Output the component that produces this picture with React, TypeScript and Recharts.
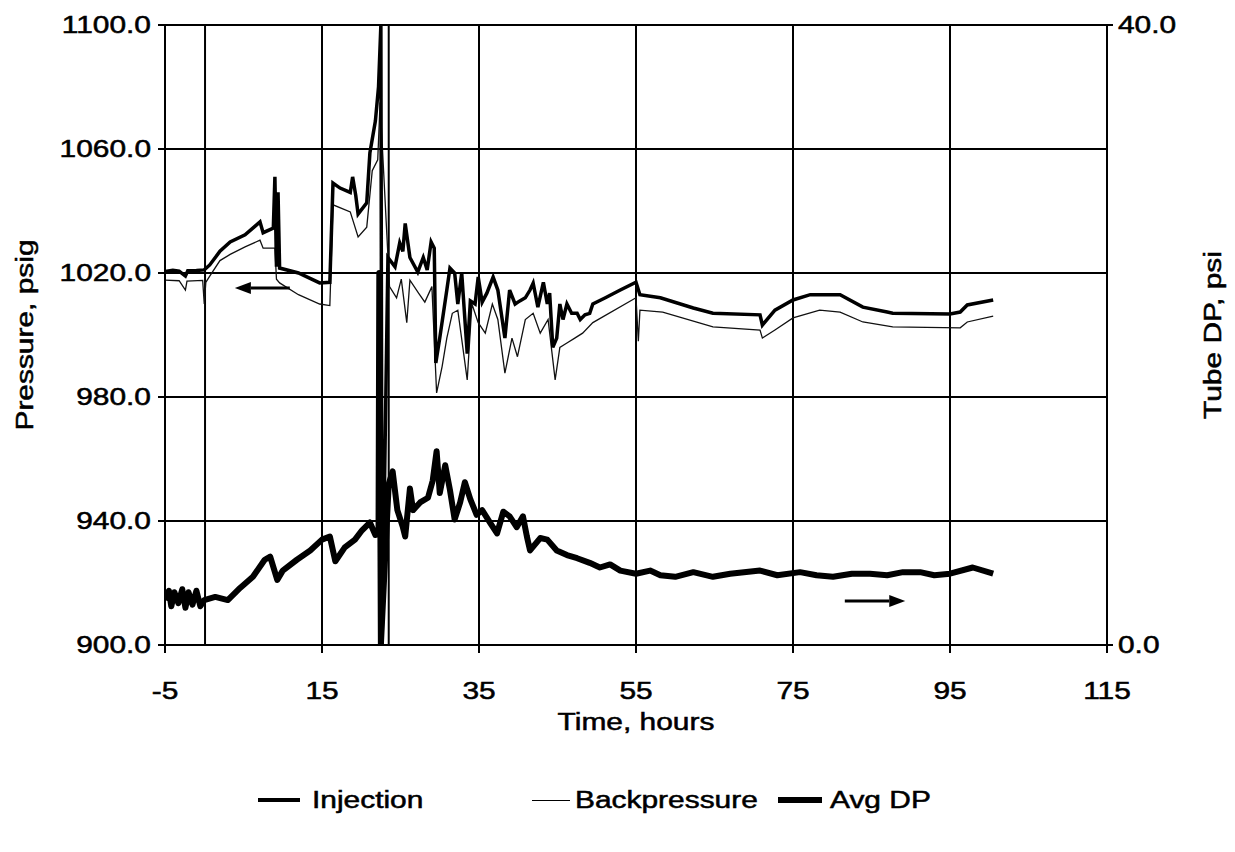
import React from "react";
import {
  LineChart,
  Line,
  XAxis,
  YAxis,
  CartesianGrid,
  ReferenceLine,
} from "recharts";

// Injection pressure, psig
const injHours = [
  -5, -4, -3.2, -2.4, -2.1, -1, 0, 0.7, 2.0, 3.3,
  5.2, 7.1, 7.5, 8.8, 9.0, 9.2, 9.4, 9.6, 12.0, 14.7,
  16.0, 16.4, 17.3, 18.6, 18.9, 19.3, 19.6, 20.7, 21.1, 21.8,
  22.2, 22.5, 22.65, 23.4, 24.3, 24.9, 25.3, 25.6, 26.2, 27.2,
  27.9, 28.4, 28.9, 29.3, 29.5, 30.0, 30.9, 31.3, 31.9, 32.3,
  32.8, 33.5, 33.9, 34.5, 34.9, 35.4, 36.0, 36.8, 37.4, 38.3,
  38.9, 39.6, 40.2, 40.9, 41.5, 41.9, 42.5, 43.2, 43.7, 44.0,
  44.4, 44.9, 45.3, 45.7, 46.2, 46.8, 47.5, 47.9, 48.5, 49.1,
  49.5, 51.1, 53.0, 55.0, 55.5, 58.1, 62.3, 64.8, 70.8, 71.1,
  72.7, 75.0, 77.2, 81.0, 83.9, 87.0, 87.7, 95.0, 96.3, 97.2,
  100.5,
];
const injPsig = [
  1020.5, 1020.9, 1020.6, 1019.0, 1020.7, 1020.8, 1021, 1022.6, 1027, 1030,
  1032.3, 1036.5, 1033, 1034.5, 1051, 1022, 1046, 1021.6, 1020, 1016.8,
  1017, 1049, 1047.4, 1046, 1051, 1045, 1039, 1042.6, 1058.7, 1069,
  1080, 1100, 900, 1025, 1022, 1029.7, 1027, 1036, 1025, 1020.3,
  1025, 1021, 1030, 1028, 991, 999, 1014.5, 1021.6, 1020, 1010,
  1020, 994, 1011, 1010, 1018.7, 1010.6, 1013.5, 1018.7, 1014.5, 999,
  1014.5, 1010, 1011, 1012, 1014.5, 1016.7, 1009, 1017, 1010, 1013.5,
  996, 999, 1010, 1005, 1010, 1007, 1007, 1005, 1006.5, 1007,
  1010, 1012, 1014.5, 1017, 1013, 1012, 1008.7, 1007, 1006.5, 1003.2,
  1008, 1011.3, 1013, 1013, 1009, 1007.4, 1007, 1006.8, 1007.4, 1009.7,
  1011.3,
];

// Backpressure, psig
const bpHours = [
  -5, -3.2, -2.4, -2.2, -0.2, 0.0, 0.2, 0.7, 2.0, 3.3,
  5.2, 7.1, 7.5, 9.0, 9.2, 9.6, 12.0, 14.7, 16.0, 16.4,
  18.6, 19.6, 20.7, 21.4, 22.1, 22.4, 23.6, 24.5, 25.1, 25.8,
  26.2, 27.3, 28.1, 29.0, 29.6, 30.3, 30.9, 31.6, 32.3, 33.5,
  34.1, 34.9, 35.8, 36.7, 37.4, 38.3, 39.2, 39.9, 40.9, 41.9,
  42.8, 43.8, 44.7, 45.3, 46.2, 47.2, 48.2, 49.5, 55.0, 55.3,
  55.5, 58.4, 64.8, 70.8, 71.1, 72.7, 75.0, 78.4, 81.0, 83.9,
  87.7, 96.3, 97.2, 100.5,
];
const bpPsig = [
  1017.7, 1017.5, 1014.5, 1017.4, 1017.6, 1010, 1017, 1019, 1024, 1026,
  1028.4, 1030.6, 1028, 1028, 1018, 1016.8, 1013, 1010, 1009.5, 1042,
  1039.7, 1031.6, 1034.8, 1053, 1056.5, 1075, 1015.6, 1012, 1018, 1004,
  1017.7, 1013.5, 1010.6, 1015.6, 981.3, 989.8, 999, 1007, 1008, 985.5,
  1010, 1004, 1000.6, 1010, 1005, 987.7, 999, 993, 1005, 1007,
  1000.6, 1005, 985.5, 996, 997.4, 999, 1000.6, 1004, 1012, 998,
  1008, 1007.4, 1002.6, 1001.6, 999, 1001.6, 1005.5, 1008, 1007.4, 1004.2,
  1002.6, 1002.3, 1004.2, 1006.1,
];

// Avg tube DP, psi (right axis)
const dpHours = [
  -5, -4.5, -4.2, -3.8, -3.3, -2.8, -2.4, -2.0, -1.5, -1.0,
  -0.5, 0.0, 1.4, 3.0, 4.6, 6.2, 7.7, 8.4, 9.3, 10.0,
  11.8, 13.5, 15.0, 16.0, 16.7, 17.9, 19.2, 20.1, 21.1, 21.8,
  22.2, 22.3, 22.5, 23.5, 24.0, 24.6, 25.3, 25.6, 26.2, 26.6,
  27.5, 28.5, 29.1, 29.6, 30.0, 30.7, 31.3, 31.9, 32.6, 33.2,
  33.9, 34.7, 35.4, 36.4, 37.3, 38.1, 38.9, 39.8, 40.6, 41.1,
  41.5, 42.8, 43.7, 44.9, 46.2, 47.5, 49.1, 50.4, 51.7, 53.0,
  55.0, 56.8, 58.1, 60.0, 62.3, 64.8, 67.0, 70.8, 73.0, 75.9,
  78.0, 80.1, 82.5, 84.8, 87.0, 89.0, 91.2, 93.0, 95.0, 97.9,
  100.5,
];
const dpPsi = [
  2.9, 3.5, 2.5, 3.4, 2.7, 3.6, 2.4, 3.4, 2.6, 3.5,
  2.5, 2.9, 3.1, 2.9, 3.7, 4.4, 5.5, 5.7, 4.2, 4.8,
  5.5, 6.1, 6.8, 7.0, 5.4, 6.3, 6.8, 7.4, 7.9, 7.1,
  7.2, 24, 0, 10.4, 11.2, 8.7, 7.6, 7.0, 10.1, 8.7,
  9.2, 9.5, 10.6, 12.5, 9.8, 11.6, 10.0, 8.1, 9.2, 10.5,
  9.4, 8.4, 8.7, 7.9, 7.2, 8.6, 8.3, 7.6, 8.3, 7.0,
  6.1, 6.9, 6.8, 6.1, 5.8, 5.6, 5.3, 5.0, 5.2, 4.8,
  4.6, 4.8, 4.5, 4.4, 4.7, 4.4, 4.6, 4.8, 4.5, 4.7,
  4.5, 4.4, 4.6, 4.6, 4.5, 4.7, 4.7, 4.5, 4.6, 5.0,
  4.6,
];

const xTicks = [-5, 15, 35, 55, 75, 95, 115];
const leftTicks = [900, 940, 980, 1020, 1060, 1100];
const rightTicks = [0, 40];
const markerHours = [0.1, 23.5];

// direction arrows: [fromHour, toHour, psig]
const arrowLeft = [10.9, 3.9, 1015.2];
const arrowRight = [81.6, 89.3, 914.2];

const zip = (hs: number[], vs: number[]) => hs.map((h, i) => ({ h, v: vs[i] }));
const injData = zip(injHours, injPsig);
const bpData = zip(bpHours, bpPsig);
const dpData = zip(dpHours, dpPsi);

const FONT = '"Liberation Sans", Arial, Helvetica, sans-serif';
const FS = 23;
const STRETCH = 1.3;

function LeftTick(props: any) {
  const { x, y, payload } = props;
  const ax = x + 14;
  return (
    <g>
      <line x1={ax} x2={ax + 5} y1={y} y2={y} stroke="#000" strokeWidth={2} />
      <text
        transform={`translate(${x},${y}) scale(${STRETCH},1)`}
        textAnchor="end"
        dy="0.36em"
        fontSize={FS}
        fontFamily={FONT}
        fill="#000"
        stroke="#000"
        strokeWidth={0.5}
      >
        {Number(payload.value).toFixed(1)}
      </text>
    </g>
  );
}

function RightTick(props: any) {
  const { x, y, payload } = props;
  const ax = x - 11;
  return (
    <g>
      <line x1={ax - 5} x2={ax} y1={y} y2={y} stroke="#000" strokeWidth={2} />
      <text
        transform={`translate(${x},${y}) scale(${STRETCH},1)`}
        textAnchor="start"
        dy="0.36em"
        fontSize={FS}
        fontFamily={FONT}
        fill="#000"
        stroke="#000"
        strokeWidth={0.5}
      >
        {Number(payload.value).toFixed(1)}
      </text>
    </g>
  );
}

function BottomTick(props: any) {
  const { x, y, payload } = props;
  const ay = y - 37;
  return (
    <g>
      <line x1={x} x2={x} y1={ay - 4} y2={ay} stroke="#000" strokeWidth={2} />
      <text
        transform={`translate(${x},${y + 17}) scale(${STRETCH},1)`}
        textAnchor="middle"
        fontSize={FS}
        fontFamily={FONT}
        fill="#000"
        stroke="#000"
        strokeWidth={0.5}
      >
        {payload.value}
      </text>
    </g>
  );
}

function Arrow(props: any) {
  const { x1, y1, x2, y2 } = props;
  const dir = x2 - x1 >= 0 ? 1 : -1;
  const hx = x2 - dir * 16;
  return (
    <g>
      <line x1={x1} y1={y1} x2={hx} y2={y2} stroke="#000" strokeWidth={3} />
      <polygon points={`${x2},${y2} ${hx},${y2 - 6} ${hx},${y2 + 6}`} fill="#000" />
    </g>
  );
}

const legendItems = [
  { name: "Injection", width: 3.5, lineLeft: 250, lineRight: 292, textLeft: 304 },
  { name: "Backpressure", width: 1, lineLeft: 524, lineRight: 562, textLeft: 567 },
  { name: "Avg DP", width: 6, lineLeft: 770, lineRight: 814, textLeft: 822 },
];

const textStyle: React.CSSProperties = {
  position: "absolute",
  fontFamily: FONT,
  fontSize: FS,
  color: "#000",
  whiteSpace: "nowrap",
  lineHeight: 1,
  WebkitTextStroke: "0.5px #000",
};

export default function App() {
  return (
    <div style={{ position: "relative", width: 1227, height: 836, background: "#fff" }}>
      <LineChart
        width={1227}
        height={740}
        margin={{ top: 17, right: 28, left: 0, bottom: 43 }}
      >
        <CartesianGrid
          yAxisId="left"
          stroke="#000"
          strokeWidth={2}
          horizontalValues={leftTicks}
          verticalValues={xTicks}
        />
        <XAxis
          type="number"
          dataKey="h"
          domain={[-5, 115]}
          ticks={xTicks}
          interval={0}
          allowDataOverflow
          height={60}
          tickSize={8}
          tickMargin={29}
          axisLine={{ stroke: "#000", strokeWidth: 2 }}
          tickLine={{ stroke: "#000", strokeWidth: 2 }}
          tick={<BottomTick />}
        />
        <YAxis
          yAxisId="left"
          orientation="left"
          domain={[900, 1100]}
          ticks={leftTicks}
          interval={0}
          allowDataOverflow
          width={157}
          tickSize={7}
          tickMargin={7}
          axisLine={{ stroke: "#000", strokeWidth: 2 }}
          tickLine={{ stroke: "#000", strokeWidth: 2 }}
          tick={<LeftTick />}
        />
        <YAxis
          yAxisId="right"
          orientation="right"
          domain={[0, 40]}
          ticks={rightTicks}
          interval={0}
          allowDataOverflow
          width={100}
          tickSize={6}
          tickMargin={5}
          axisLine={{ stroke: "#000", strokeWidth: 2 }}
          tickLine={{ stroke: "#000", strokeWidth: 2 }}
          tick={<RightTick />}
        />
        {markerHours.map((h) => (
          <ReferenceLine
            key={h}
            yAxisId="left"
            x={h}
            stroke="#000"
            strokeWidth={2}
          />
        ))}
        <Line
          yAxisId="left"
          data={bpData}
          dataKey="v"
          name="Backpressure"
          type="linear"
          stroke="#111"
          strokeWidth={1.3}
          dot={false}
          isAnimationActive={false}
        />
        <Line
          yAxisId="left"
          data={injData}
          dataKey="v"
          name="Injection"
          type="linear"
          stroke="#000"
          strokeWidth={3.5}
          dot={false}
          isAnimationActive={false}
        />
        <Line
          yAxisId="right"
          data={dpData}
          dataKey="v"
          name="Avg DP"
          type="linear"
          stroke="#000"
          strokeWidth={6}
          strokeLinejoin="round"
          dot={false}
          isAnimationActive={false}
        />
        <ReferenceLine
          yAxisId="left"
          segment={[
            { x: arrowLeft[0], y: arrowLeft[2] },
            { x: arrowLeft[1], y: arrowLeft[2] },
          ]}
          shape={<Arrow />}
        />
        <ReferenceLine
          yAxisId="left"
          segment={[
            { x: arrowRight[0], y: arrowRight[2] },
            { x: arrowRight[1], y: arrowRight[2] },
          ]}
          shape={<Arrow />}
        />
      </LineChart>

      <div
        style={{
          ...textStyle,
          left: 17,
          top: 327,
          transform: `translate(-50%,-50%) rotate(-90deg) scaleX(${STRETCH})`,
        }}
      >
        Pressure, psig
      </div>
      <div
        style={{
          ...textStyle,
          left: 1205,
          top: 327,
          transform: `translate(-50%,-50%) rotate(-90deg) scaleX(${STRETCH})`,
        }}
      >
        Tube DP, psi
      </div>
      <div
        style={{
          ...textStyle,
          left: 628,
          top: 714,
          transform: `translate(-50%,-50%) scaleX(${STRETCH})`,
        }}
      >
        Time, hours
      </div>

      {legendItems.map((it) => (
        <React.Fragment key={it.name}>
          <div
            style={{
              position: "absolute",
              left: it.lineLeft,
              width: it.lineRight - it.lineLeft,
              top: 792 - it.width / 2,
              height: it.width,
              background: "#000",
            }}
          />
          <div
            style={{
              ...textStyle,
              left: it.textLeft,
              top: 792,
              transformOrigin: "0 50%",
              transform: `translateY(-50%) scaleX(${STRETCH})`,
            }}
          >
            {it.name}
          </div>
        </React.Fragment>
      ))}
    </div>
  );
}
